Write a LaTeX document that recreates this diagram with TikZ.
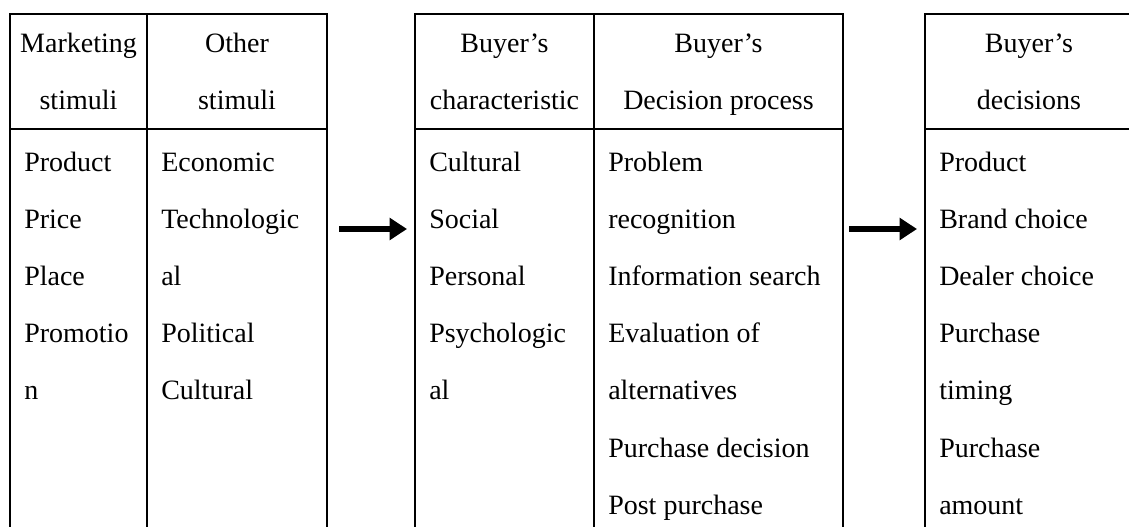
\documentclass[tikz,border=0pt]{standalone}
\usepackage{fontspec}
\setmainfont{Liberation Serif}
\usepackage{tikz}
\usetikzlibrary{arrows.meta}

\begin{document}
\begin{tikzpicture}[x=0.75pt, y=-0.75pt,
    rule/.style={line width=1.5pt, line join=miter},
    flow/.style={line width=4.2pt, -{Triangle[length=13pt,width=16pt]}}]
\useasboundingbox (0,0) rectangle (1129,527);
\clip (0,0) rectangle (1129,527);
% the three tables
\draw[rule] (10,527) -- (10,14) -- (327,14) -- (327,527);
\draw[rule] (147,14) -- (147,527);
\draw[rule] (10,129) -- (327,129);
\draw[rule] (415,527) -- (415,14) -- (843,14) -- (843,527);
\draw[rule] (594,14) -- (594,527);
\draw[rule] (415,129) -- (843,129);
\draw[rule] (925,527) -- (925,14) -- (1133,14) -- (1133,527);
\draw[rule] (925,129) -- (1133,129);
% headers
\begin{scope}[every node/.style={anchor=base, inner sep=0pt, font=\fontsize{21}{21}\selectfont}]
  \node (ms1) at (78.5,53) {Marketing};
  \node (ms2) at (78.5,110) {stimuli};
  \node (os1) at (237,53) {Other};
  \node (os2) at (237,110) {stimuli};
  \node (bc1) at (504.5,53) {Buyer’s};
  \node (bc2) at (504.5,110) {characteristic};
  \node (bp1) at (718.5,53) {Buyer’s};
  \node (bp2) at (718.5,110) {Decision process};
  \node (bd1) at (1029,53) {Buyer’s};
  \node (bd2) at (1029,110) {decisions};
\end{scope}
% cell contents
\begin{scope}[every node/.style={anchor=base west, inner sep=0pt, font=\fontsize{21}{21}\selectfont}]
  \node (product) at (24,172) {Product};
  \node (price) at (24,229) {Price};
  \node (place) at (24,286) {Place};
  \node (promo) at (24,343) {Promotio};
  \node (promon) at (24,400) {n};
  \node (econ) at (161,172) {Economic};
  \node (tech) at (161,229) {Technologic};
  \node (techal) at (161,286) {al};
  \node (polit) at (161,343) {Political};
  \node (cult) at (161,400) {Cultural};
  \node (cultural) at (429,172) {Cultural};
  \node (social) at (429,229) {Social};
  \node (personal) at (429,286) {Personal};
  \node (psych) at (429,343) {Psychologic};
  \node (psychal) at (429,400) {al};
  \node (prob) at (608,172) {Problem};
  \node (recog) at (608,229) {recognition};
  \node (info) at (608,286) {Information search};
  \node (eval) at (608,343) {Evaluation of};
  \node (alt) at (608,400) {alternatives};
  \node (pdec) at (608,457) {Purchase decision};
  \node (post) at (608,514) {Post purchase};
  \node (prod) at (939,172) {Product};
  \node (brand) at (939,229) {Brand choice};
  \node (dealer) at (939,286) {Dealer choice};
  \node (ptime) at (939,343) {Purchase};
  \node (timing) at (939,400) {timing};
  \node (pamt) at (939,457) {Purchase};
  \node (amount) at (939,514) {amount};
\end{scope}
% arrows between the tables
\coordinate (a1s) at (339,229);
\coordinate (a1e) at (407,229);
\coordinate (a2s) at (849,229);
\coordinate (a2e) at (917,229);
\draw[flow] (a1s) -- (a1e);
\draw[flow] (a2s) -- (a2e);
\end{tikzpicture}
\end{document}
